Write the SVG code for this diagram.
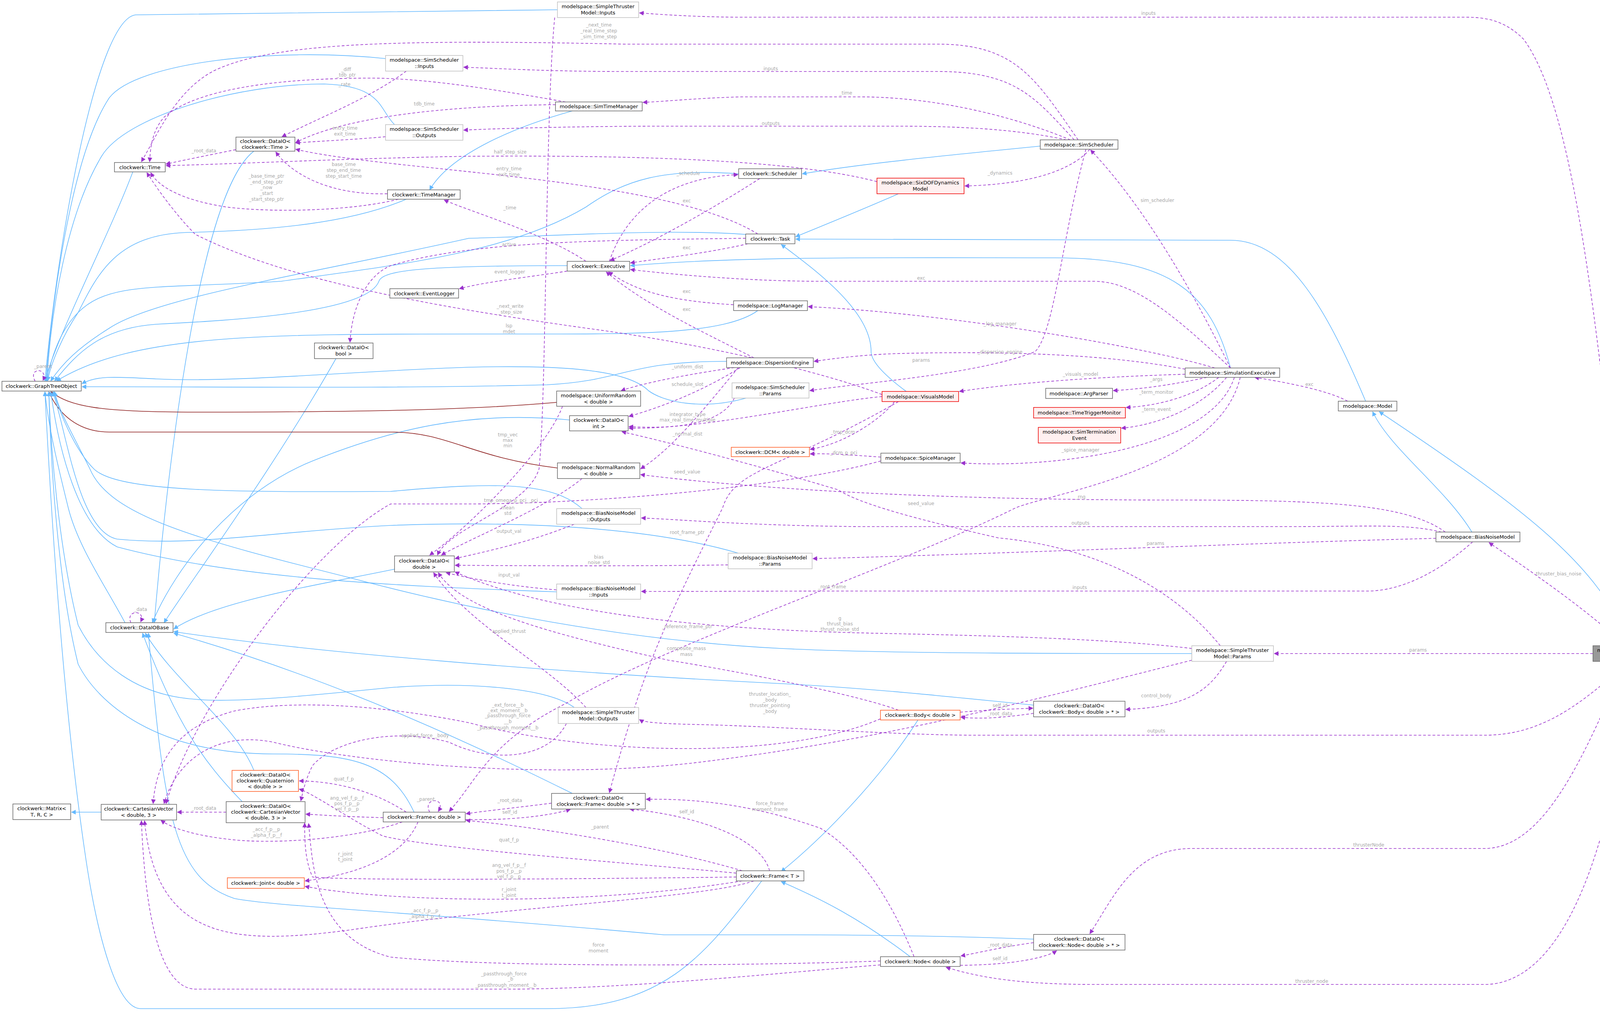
<svg xmlns="http://www.w3.org/2000/svg" width="4292" height="2588" viewBox="0 0 4292 2588">
<style>
.bg{fill:#fff}
.n rect{fill:#fff;stroke:#666;stroke-width:1.5}
.n.lt rect{stroke:#bfbfbf}
.n.rd rect{fill:#fff0f0;stroke:#e00}
.n.or rect{stroke:#ff5a1f}
.n.gy rect{fill:#999;stroke:#666}
.n text{font-family:"DejaVu Sans","Liberation Sans",sans-serif;font-size:13px;fill:#000;text-anchor:middle}
.e path{fill:none;stroke-width:1.6}
.b{stroke:#63b8ff}
.m{stroke:#8b1a1a}
.p{stroke:#9a32cd;stroke-dasharray:7,5}
.b{marker-end:url(#ab)}
.m{marker-end:url(#am)}
.p{marker-end:url(#ap)}
.l text{font-family:"DejaVu Sans","Liberation Sans",sans-serif;font-size:12px;fill:#a8a8a8;text-anchor:middle}
</style>
<defs>
<marker id="ab" viewBox="0 0 10 10" refX="9" refY="5" markerWidth="12" markerHeight="12" markerUnits="userSpaceOnUse" orient="auto"><path d="M0,0 L10,5 L0,10 z" fill="#63b8ff"/></marker>
<marker id="am" viewBox="0 0 10 10" refX="9" refY="5" markerWidth="12" markerHeight="12" markerUnits="userSpaceOnUse" orient="auto"><path d="M0,0 L10,5 L0,10 z" fill="#8b1a1a"/></marker>
<marker id="ap" viewBox="0 0 10 10" refX="9" refY="5" markerWidth="12" markerHeight="12" markerUnits="userSpaceOnUse" orient="auto"><path d="M0,0 L10,5 L0,10 z" fill="#9a32cd"/></marker>
</defs>
<rect class="bg" width="4292" height="2588"/>
<g id="connectors" class="e">
<path class="b" d="M1427,25 C900,30 420,38 350,38 C250,38 150,600 115,975"/>
<path class="b" d="M987,150 C700,120 350,160 280,250 C180,400 130,800 118,975"/>
<path class="b" d="M1010,319 C970,280 980,220 830,215 C600,215 320,300 260,400 C170,550 130,800 120,975"/>
<path class="b" d="M1465,284 C1300,330 1150,400 1100,486"/>
<path class="b" d="M650,387 C500,500 420,1300 395,1594"/>
<path class="b" d="M340,440 C280,600 150,850 115,975"/>
<path class="b" d="M1891,445 C1700,430 1600,460 1500,530 C1300,650 1000,680 720,720 C400,740 280,720 200,800 C150,850 130,920 120,975"/>
<path class="b" d="M1040,510 C900,570 700,590 480,595 C300,600 250,700 200,800 C160,860 130,930 122,975"/>
<path class="b" d="M1909,600 C1700,585 1400,605 1200,610 C800,700 400,760 280,840 C200,890 160,930 130,975"/>
<path class="b" d="M1452,680 C1100,680 980,690 970,720 C940,800 600,820 400,830 C260,840 200,900 140,975"/>
<path class="b" d="M1940,795 C1850,860 1600,855 1300,855 C700,855 350,850 145,975"/>
<path class="b" d="M860,918 C700,1200 480,1500 420,1594"/>
<path class="b" d="M1860,925 C1600,925 1600,975 1400,985 C1000,995 600,990 210,990"/>
<path class="b" d="M1910,1019 C1800,1050 1700,1030 1660,1000 C1600,940 1400,935 1200,940 C900,950 600,980 400,970 C300,965 250,960 210,982"/>
<path class="b" d="M1458,1075 C1200,1050 1000,1100 800,1180 C600,1260 450,1450 390,1594"/>
<path class="m" d="M1425,1030 C1200,1050 900,1055 500,1055 C250,1055 180,1040 130,1003"/>
<path class="m" d="M1427,1198 C1200,1170 1150,1106 1000,1106 C700,1106 350,1106 280,1106 C200,1106 150,1060 125,1003"/>
<path class="b" d="M1490,1302 C1420,1240 1300,1230 1000,1258 C600,1260 300,1260 240,1200 C190,1150 150,1050 138,1003"/>
<path class="b" d="M1890,1416 C1700,1360 1400,1330 1000,1345 C700,1360 500,1400 300,1380 C200,1360 170,1100 135,1003"/>
<path class="b" d="M1425,1515 C1000,1500 600,1480 300,1400 C200,1350 150,1150 130,1003"/>
<path class="b" d="M1010,1457 C800,1500 550,1540 445,1610"/>
<path class="b" d="M320,1594 C270,1500 200,1400 175,1301 C150,1200 125,1100 115,1003"/>
<path class="b" d="M1470,1811 C1400,1760 1200,1745 1000,1760 C800,1780 600,1800 500,1790 C350,1780 250,1700 200,1600 C150,1400 130,1150 125,1003"/>
<path class="b" d="M3051,1673 C2500,1673 2200,1670 2000,1660 C1600,1640 1200,1560 900,1480 C500,1380 280,1320 230,1200 C180,1100 150,1050 140,1003"/>
<path class="b" d="M2646,1805 C2400,1780 2200,1760 2000,1750 C1400,1720 800,1670 445,1617"/>
<path class="b" d="M650,1972 C600,1850 450,1750 372,1621"/>
<path class="b" d="M620,2052 C520,1950 450,1850 365,1621"/>
<path class="b" d="M259,2079 L183,2079"/>
<path class="b" d="M1060,2079 C1000,1950 900,1930 700,1930 C400,1930 250,1800 200,1700 C150,1500 130,1200 125,1003"/>
<path class="b" d="M1465,2031 C1300,1950 900,1750 445,1621"/>
<path class="b" d="M1950,2255 C1800,2450 1700,2582 1400,2582 L360,2582 C300,2582 250,2400 220,2200 C160,1800 130,1300 115,1003"/>
<path class="b" d="M2646,2404 C2400,2395 2200,2393 2000,2393 L1700,2393 C1000,2330 700,2320 600,2300 C450,2250 420,2100 380,1621"/>
<path class="b" d="M2330,2449 C2200,2350 2100,2300 2000,2257"/>
<path class="b" d="M2350,1843 C2250,2000 2100,2150 2000,2231"/>
<path class="b" d="M2663,374 C2400,400 2200,420 2054,445"/>
<path class="b" d="M2300,496 C2200,540 2100,580 2037,606"/>
<path class="b" d="M3150,942 C3100,750 3000,660 2700,660 C2300,660 1900,655 1614,680"/>
<path class="b" d="M3496,1027 C3400,800 3300,615 3150,615 L2037,612"/>
<path class="b" d="M2320,1002 C2250,950 2230,920 2230,900 C2230,800 2100,700 2000,626"/>
<path class="b" d="M3768,1362 C3700,1250 3560,1150 3514,1054"/>
<path class="b" d="M4171,1653 C4100,1450 3900,1300 3531,1054"/>

<path class="p" d="M4180,1652 C4100,1000 4050,300 3900,100 C3850,50 3800,44 3750,44 L1900,44 C1800,44 1700,38 1637,33"/>
<path class="p" d="M2760,358 C2650,200 2600,113 2400,113 L1600,113 C1000,100 700,110 550,180 C450,230 400,350 362,414"/>
<path class="p" d="M2750,358 C2650,250 2600,183 2400,183 L1600,183 C1400,183 1300,176 1187,172"/>
<path class="p" d="M2740,358 C2600,300 2400,248 2200,248 L1900,248 C1800,250 1700,260 1646,262"/>
<path class="p" d="M2730,358 C2600,330 2450,323 2300,323 L1700,323 C1500,323 1300,328 1187,333"/>
<path class="p" d="M2790,382 C2750,430 2650,472 2470,476"/>
<path class="p" d="M2780,382 C2720,600 2700,850 2650,900 C2500,960 2200,980 2073,1000"/>
<path class="p" d="M1448,261 C1300,235 1100,200 950,200 C700,200 500,230 420,300 C385,340 385,390 383,414"/>
<path class="p" d="M1422,268 C1200,270 900,290 757,365"/>
<path class="p" d="M1040,182 C950,250 820,300 722,350"/>
<path class="p" d="M987,350 C900,358 800,362 757,366"/>
<path class="p" d="M604,383 C520,400 470,410 425,420"/>
<path class="p" d="M2245,465 C2000,400 1500,398 1200,400 C900,405 600,420 425,424"/>
<path class="p" d="M1940,599 C1700,450 1000,440 757,382"/>
<path class="p" d="M992,496 C850,500 750,450 706,389"/>
<path class="p" d="M1020,510 C900,540 700,545 580,530 C450,510 400,470 386,442"/>
<path class="p" d="M1500,669 C1400,600 1200,540 1137,512"/>
<path class="p" d="M1560,669 C1600,550 1700,455 1889,447"/>
<path class="p" d="M1945,457 C1800,550 1650,630 1562,667"/>
<path class="p" d="M1915,624 C1800,650 1700,660 1614,673"/>
<path class="p" d="M1452,694 C1350,710 1250,720 1176,739"/>
<path class="p" d="M1909,610 C1500,615 1200,620 1000,680 C930,710 900,800 896,876"/>
<path class="p" d="M1878,780 C1700,770 1620,740 1558,696"/>
<path class="p" d="M1930,916 C1800,850 1650,780 1552,696"/>
<path class="p" d="M3150,942 C3000,800 2900,720 2800,720 L2100,720 C1900,720 1700,700 1614,690"/>
<path class="p" d="M2258,1010 C2100,950 1800,880 1500,840 C1000,770 700,700 500,600 C450,550 400,480 376,442"/>
<path class="p" d="M1880,941 C1750,960 1650,980 1590,1000"/>
<path class="p" d="M1890,941 C1800,1050 1720,1150 1640,1200"/>
<path class="p" d="M1895,941 C1800,1000 1700,1040 1610,1066"/>
<path class="p" d="M1880,1019 C1850,1080 1750,1100 1610,1092"/>
<path class="p" d="M3700,1362 C3600,1290 3400,1280 3000,1280 C2500,1280 2000,1260 1640,1215"/>
<path class="p" d="M2290,1028 C2250,1080 2150,1140 2074,1150"/>
<path class="p" d="M2255,1170 C2180,1165 2120,1160 2074,1162"/>
<path class="p" d="M2258,1015 C2100,1030 1800,1100 1610,1096"/>
<path class="p" d="M3150,942 C3080,800 2950,550 2792,384"/>
<path class="p" d="M3110,942 C2900,880 2400,800 2069,785"/>
<path class="p" d="M3034,945 C2800,900 2500,900 2300,905 C2200,908 2120,920 2084,925"/>
<path class="p" d="M3034,958 C2800,965 2600,980 2456,1002"/>
<path class="p" d="M3090,966 C3000,985 2930,995 2850,1000"/>
<path class="p" d="M3120,966 C3050,1020 2950,1040 2883,1043"/>
<path class="p" d="M3140,966 C3070,1050 2950,1090 2871,1096"/>
<path class="p" d="M3160,966 C3100,1150 2700,1200 2460,1185"/>
<path class="p" d="M3175,966 C3120,1200 2700,1260 2600,1300 C2300,1450 1700,1650 1450,1800 C1250,1900 1220,2000 1150,2077"/>
<path class="p" d="M3450,1027 C3400,1000 3300,980 3212,966"/>
<path class="p" d="M3690,1362 C3600,1340 3500,1348 3300,1348 L2200,1348 C1900,1345 1750,1330 1642,1326"/>
<path class="p" d="M3676,1378 C3200,1390 2500,1420 2081,1430"/>
<path class="p" d="M3770,1387 C3700,1450 3600,1513 3500,1513 L2200,1513 C2000,1513 1800,1514 1642,1514"/>
<path class="p" d="M4160,1652 C4050,1550 3900,1450 3812,1389"/>
<path class="p" d="M4078,1673 L3262,1673"/>
<path class="p" d="M4170,1693 C4050,1800 3950,1882 3800,1882 L2500,1882 C2300,1882 2000,1860 1800,1855 C1700,1853 1650,1850 1637,1842"/>
<path class="p" d="M4160,1693 C4050,1950 3950,2172 3800,2172 L3050,2172 C2900,2172 2850,2300 2790,2390"/>
<path class="p" d="M4180,1693 C4150,2000 4050,2520 3800,2520 L2800,2520 C2600,2520 2500,2500 2422,2476"/>
<path class="p" d="M3140,1693 C3100,1760 3050,1810 2882,1816"/>
<path class="p" d="M3051,1690 C2500,1830 2200,1900 1800,1950 C1400,2000 900,1950 700,1900 C550,1870 450,1950 420,2057"/>
<path class="p" d="M3051,1660 C2800,1630 2400,1625 2200,1620 C1800,1610 1400,1570 1165,1464"/>
<path class="p" d="M3124,1653 C3000,1500 2800,1400 2556,1377 C2350,1330 2200,1290 2146,1254 C1900,1180 1700,1130 1592,1105"/>
<path class="p" d="M2646,1826 C2550,1840 2500,1840 2460,1836"/>
<path class="p" d="M2458,1823 C2520,1818 2580,1815 2644,1813"/>
<path class="p" d="M2300,1818 C2200,1780 1900,1720 1711,1690 C1400,1620 1180,1560 1122,1466"/>
<path class="p" d="M2254,1840 C2000,1950 1500,1930 1200,1850 C900,1790 700,1800 600,1820 C450,1860 400,1950 392,2057"/>
<path class="p" d="M1450,1852 C1400,1950 1250,1950 1150,1900 C1000,1860 850,1900 800,1960 C780,2000 775,2030 770,2050"/>
<path class="p" d="M2300,1028 C2000,1200 1880,1200 1850,1300 C1700,1600 1650,1700 1560,2029"/>
<path class="p" d="M1100,2079 C1080,2040 1145,2040 1122,2077"/>
<path class="p" d="M1040,2079 C950,2020 850,2000 766,1999"/>
<path class="p" d="M981,2093 C900,2091 850,2088 783,2084"/>
<path class="p" d="M1030,2104 C900,2150 700,2160 600,2150 C500,2140 440,2120 412,2100"/>
<path class="p" d="M1070,2104 C1030,2200 900,2240 781,2255"/>
<path class="p" d="M1412,2056 C1300,2070 1250,2075 1193,2083"/>
<path class="p" d="M1191,2098 C1300,2100 1400,2090 1460,2072"/>
<path class="p" d="M579,2079 L454,2079"/>
<path class="p" d="M1900,2229 C1700,2170 1400,2120 1193,2100"/>
<path class="p" d="M1885,2235 C1500,2200 1100,2170 980,2140 C900,2100 800,2030 766,2020"/>
<path class="p" d="M1885,2245 C1500,2250 900,2255 800,2245 C780,2200 780,2150 780,2107"/>
<path class="p" d="M1900,2255 C1500,2320 1000,2310 781,2269"/>
<path class="p" d="M1930,2255 C1800,2300 1300,2320 900,2380 C600,2420 400,2410 370,2101"/>
<path class="p" d="M1970,2229 C1950,2150 1800,2090 1612,2071"/>
<path class="p" d="M2340,2449 C2280,2300 2200,2180 2100,2120 C1900,2050 1750,2045 1654,2046"/>
<path class="p" d="M2254,2460 C2000,2470 1300,2480 1000,2450 C800,2400 800,2200 790,2108"/>
<path class="p" d="M2254,2470 C2000,2490 1600,2532 1300,2532 L500,2532 C400,2530 370,2300 362,2101"/>
<path class="p" d="M2646,2413 C2560,2425 2500,2440 2460,2447"/>
<path class="p" d="M2458,2471 C2600,2470 2680,2450 2705,2434"/>
<path class="p" d="M90,976 C70,940 125,940 110,974"/>
<path class="p" d="M335,1594 C320,1560 375,1560 360,1592"/>
<path class="p" d="M1440,1040 C1400,1150 1200,1350 1100,1421"/>
<path class="p" d="M1490,1225 C1400,1300 1200,1380 1130,1421"/>
<path class="p" d="M1470,1342 C1350,1390 1250,1410 1165,1430"/>
<path class="p" d="M1864,1446 C1600,1450 1300,1448 1165,1447"/>
<path class="p" d="M1425,1510 C1300,1500 1200,1480 1142,1466"/>
<path class="p" d="M1500,1811 C1400,1700 1200,1600 1110,1466"/>
<path class="p" d="M1420,45 C1395,300 1400,1000 1380,1200 C1350,1300 1150,1350 1120,1421"/>
<path class="p" d="M2255,1180 C2000,1250 1500,1290 1200,1290 L1000,1290 C800,1400 500,1800 425,2057"/>
</g>
<g id="labels" class="l">
<text x="2940" y="38">inputs</text>
<text x="1533" y="68">_next_time</text><text x="1533" y="83">_real_time_step</text><text x="1533" y="98">_sim_time_step</text>
<text x="1973" y="180">inputs</text>
<text x="2165" y="242">_time</text>
<text x="1973" y="320">outputs</text>
<text x="2560" y="447">_dynamics</text>
<text x="2358" y="926">params</text>
<text x="886" y="182">_diff</text><text x="886" y="196">_tdb_ptr</text><text x="882" y="220">_rate</text>
<text x="1086" y="270">tdb_time</text>
<text x="883" y="332">entry_time</text><text x="883" y="347">exit_time</text>
<text x="522" y="390">_root_data</text>
<text x="1306" y="393">half_step_size</text>
<text x="1303" y="436">entry_time</text><text x="1303" y="451">exit_time</text>
<text x="880" y="425">base_time</text><text x="880" y="440">step_end_time</text><text x="880" y="455">step_start_time</text>
<text x="682" y="455">_base_time_ptr</text><text x="682" y="470">_end_step_ptr</text><text x="682" y="484">_now</text><text x="682" y="499">_start</text><text x="682" y="514">_start_step_ptr</text>
<text x="1305" y="536">_time</text>
<text x="1762" y="448">_schedule</text>
<text x="1758" y="518">exc</text>
<text x="1758" y="638">exc</text>
<text x="1305" y="700">event_logger</text>
<text x="1303" y="630">active</text>
<text x="1758" y="750">exc</text>
<text x="1758" y="796">exc</text>
<text x="2358" y="716">exc</text>
<text x="1306" y="788">_next_write</text><text x="1306" y="803">_step_size</text>
<text x="1303" y="838">lsp</text><text x="1303" y="853">mdet</text>
<text x="1760" y="943">_uniform_dist</text>
<text x="1760" y="1115">_normal_dist</text>
<text x="1760" y="988">schedule_slot</text>
<text x="1760" y="1065">integrator_type</text><text x="1760" y="1079">max_real_time_multiple</text>
<text x="1759" y="1212">seed_value</text>
<text x="2766" y="1276">_rng</text>
<text x="2358" y="1293">seed_value</text>
<text x="2158" y="1110">_tmp_dcm</text>
<text x="2160" y="1163">_dcm_p_pci</text>
<text x="2963" y="517">sim_scheduler</text>
<text x="2560" y="833">_log_manager</text>
<text x="2560" y="905">_dispersion_engine</text>
<text x="2766" y="962">_visuals_model</text>
<text x="2960" y="975">_args</text>
<text x="2960" y="1008">_term_monitor</text>
<text x="2960" y="1052">_term_event</text>
<text x="2766" y="1156">_spice_manager</text>
<text x="2130" y="1506">_root_frame</text>
<text x="3352" y="988">exc</text>
<text x="2766" y="1343">outputs</text>
<text x="2958" y="1395">params</text>
<text x="2764" y="1508">inputs</text>
<text x="3990" y="1473">thruster_bias_noise</text>
<text x="3630" y="1668">params</text>
<text x="2960" y="1875">outputs</text>
<text x="3504" y="2167">thrusterNode</text>
<text x="3358" y="2516">thruster_node</text>
<text x="2960" y="1785">control_body</text>
<text x="1971" y="1781">thruster_location_</text><text x="1971" y="1796">_body</text><text x="1971" y="1810">thruster_pointing</text><text x="1971" y="1825">_body</text>
<text x="2150" y="1587">g</text><text x="2150" y="1601">thrust_bias</text><text x="2150" y="1615">thrust_noise_std</text>
<text x="2560" y="1831">_root_data</text>
<text x="2560" y="1810">self_id</text>
<text x="1757" y="1664">composite_mass</text><text x="1757" y="1679">mass</text>
<text x="1300" y="1809">_ext_force__b</text><text x="1300" y="1823">_ext_moment__b</text><text x="1300" y="1836">_passthrough_force</text><text x="1300" y="1851">__b</text><text x="1300" y="1867">_passthrough_moment__b</text>
<text x="1088" y="1887">applied_force__body</text>
<text x="1759" y="1367">root_frame_ptr</text>
<text x="1759" y="1608">_reference_frame_ptr</text>
<text x="1090" y="2050">_parent</text>
<text x="880" y="1998">quat_f_p</text>
<text x="888" y="2047">ang_vel_f_p__f</text><text x="888" y="2061">pos_f_p__p</text><text x="888" y="2075">vel_f_p__p</text>
<text x="682" y="2127">_acc_f_p__p</text><text x="682" y="2142">_alpha_f_p__f</text>
<text x="884" y="2190">r_joint</text><text x="884" y="2204">t_joint</text>
<text x="1305" y="2053">_root_data</text>
<text x="1305" y="2083">self_id</text>
<text x="522" y="2073">_root_data</text>
<text x="1536" y="2121">_parent</text>
<text x="1303" y="2154">quat_f_p</text>
<text x="1303" y="2219">ang_vel_f_p__f</text><text x="1303" y="2234">pos_f_p__p</text><text x="1303" y="2248">vel_f_p__p</text>
<text x="1303" y="2281">r_joint</text><text x="1303" y="2296">t_joint</text>
<text x="1087" y="2335">_acc_f_p__p</text><text x="1087" y="2350">_alpha_f_p__f</text>
<text x="1758" y="2082">self_id</text>
<text x="1971" y="2061">force_frame</text><text x="1971" y="2076">moment_frame</text>
<text x="1532" y="2423">force</text><text x="1532" y="2438">moment</text>
<text x="1290" y="2497">_passthrough_force</text><text x="1307" y="2510">_b</text><text x="1295" y="2526">_passthrough_moment__b</text>
<text x="2560" y="2423">_root_data</text>
<text x="2560" y="2458">self_id</text>
<text x="110" y="942">_parent</text>
<text x="360" y="1564">_data</text>
<text x="1300" y="1117">tmp_vec</text><text x="1300" y="1131">max</text><text x="1300" y="1145">min</text>
<text x="1300" y="1304">mean</text><text x="1300" y="1318">std</text>
<text x="1303" y="1364">output_val</text>
<text x="1533" y="1430">bias</text><text x="1533" y="1444">noise_std</text>
<text x="1303" y="1476">input_val</text>
<text x="1303" y="1620">applied_thrust</text>
<text x="1308" y="1285">tmp_omega_p_pci__pci</text>
</g>
<g id="n_sti" class="n lt"><rect x="1427" y="5" width="208" height="40"/><text x="1531" y="21">modelspace::SimpleThruster</text><text x="1531" y="37">Model::Inputs</text></g>
<g id="n_ssi" class="n lt"><rect x="987" y="142" width="198" height="40"/><text x="1086" y="158">modelspace::SimScheduler</text><text x="1086" y="174">::Inputs</text></g>
<g id="n_stm" class="n"><rect x="1422" y="261" width="222" height="23"/><text x="1533" y="277">modelspace::SimTimeManager</text></g>
<g id="n_sso" class="n lt"><rect x="987" y="319" width="198" height="40"/><text x="1086" y="335">modelspace::SimScheduler</text><text x="1086" y="351">::Outputs</text></g>
<g id="n_dtime" class="n"><rect x="604" y="351" width="151" height="36"/><text x="679" y="366">clockwerk::DataIO&lt;</text><text x="679" y="381">clockwerk::Time &gt;</text></g>
<g id="n_time" class="n"><rect x="293" y="416" width="130" height="24"/><text x="358" y="433">clockwerk::Time</text></g>
<g id="n_sched" class="n"><rect x="1891" y="432" width="161" height="25"/><text x="1971" y="449">clockwerk::Scheduler</text></g>
<g id="n_tm" class="n"><rect x="992" y="486" width="186" height="24"/><text x="1085" y="503">clockwerk::TimeManager</text></g>
<g id="n_task" class="n"><rect x="1909" y="599" width="126" height="25"/><text x="1972" y="616">clockwerk::Task</text></g>
<g id="n_exec" class="n"><rect x="1452" y="669" width="160" height="25"/><text x="1532" y="686">clockwerk::Executive</text></g>
<g id="n_evl" class="n"><rect x="998" y="739" width="176" height="24"/><text x="1086" y="756">clockwerk::EventLogger</text></g>
<g id="n_logm" class="n"><rect x="1878" y="770" width="189" height="25"/><text x="1972" y="787">modelspace::LogManager</text></g>
<g id="n_dbool" class="n"><rect x="805" y="878" width="150" height="40"/><text x="880" y="894">clockwerk::DataIO&lt;</text><text x="880" y="910">bool &gt;</text></g>
<g id="n_gto" class="n"><rect x="5" y="976" width="203" height="25"/><text x="106" y="993">clockwerk::GraphTreeObject</text></g>
<g id="n_disp" class="n"><rect x="1860" y="916" width="222" height="25"/><text x="1971" y="933">modelspace::DispersionEngine</text></g>
<g id="n_ssp" class="n lt"><rect x="1874" y="980" width="197" height="39"/><text x="1972" y="996">modelspace::SimScheduler</text><text x="1972" y="1012">::Params</text></g>
<g id="n_ur" class="n"><rect x="1425" y="1001" width="215" height="39"/><text x="1532" y="1017">modelspace::UniformRandom</text><text x="1532" y="1033">&lt; double &gt;</text></g>
<g id="n_dint" class="n"><rect x="1458" y="1064" width="150" height="39"/><text x="1533" y="1080">clockwerk::DataIO&lt;</text><text x="1533" y="1096">int &gt;</text></g>
<g id="n_dcm" class="n or"><rect x="1872" y="1145" width="200" height="24"/><text x="1972" y="1162">clockwerk::DCM&lt; double &gt;</text></g>
<g id="n_nr" class="n"><rect x="1427" y="1185" width="211" height="40"/><text x="1532" y="1201">modelspace::NormalRandom</text><text x="1532" y="1217">&lt; double &gt;</text></g>
<g id="n_ss" class="n"><rect x="2663" y="358" width="199" height="24"/><text x="2762" y="375">modelspace::SimScheduler</text></g>
<g id="n_six" class="n rd"><rect x="2245" y="456" width="223" height="40"/><text x="2356" y="472">modelspace::SixDOFDynamics</text><text x="2356" y="488">Model</text></g>
<g id="n_simexec" class="n"><rect x="3034" y="942" width="242" height="24"/><text x="3155" y="959">modelspace::SimulationExecutive</text></g>
<g id="n_vis" class="n rd"><rect x="2258" y="1002" width="196" height="26"/><text x="2356" y="1020">modelspace::VisualsModel</text></g>
<g id="n_arg" class="n"><rect x="2677" y="994" width="171" height="26"/><text x="2762" y="1012">modelspace::ArgParser</text></g>
<g id="n_ttm" class="n rd"><rect x="2646" y="1043" width="235" height="27"/><text x="2763" y="1061">modelspace::TimeTriggerMonitor</text></g>
<g id="n_ste" class="n rd"><rect x="2658" y="1094" width="211" height="40"/><text x="2763" y="1110">modelspace::SimTermination</text><text x="2763" y="1126">Event</text></g>
<g id="n_spice" class="n"><rect x="2255" y="1160" width="203" height="25"/><text x="2356" y="1177">modelspace::SpiceManager</text></g>
<g id="n_model" class="n"><rect x="3426" y="1027" width="150" height="25"/><text x="3501" y="1044">modelspace::Model</text></g>
<g id="n_bno" class="n lt"><rect x="1425" y="1302" width="215" height="40"/><text x="1532" y="1318">modelspace::BiasNoiseModel</text><text x="1532" y="1334">::Outputs</text></g>
<g id="n_ddbl" class="n"><rect x="1010" y="1423" width="153" height="41"/><text x="1086" y="1440">clockwerk::DataIO&lt;</text><text x="1086" y="1456">double &gt;</text></g>
<g id="n_bnp" class="n lt"><rect x="1864" y="1416" width="215" height="40"/><text x="1971" y="1432">modelspace::BiasNoiseModel</text><text x="1971" y="1448">::Params</text></g>
<g id="n_bni" class="n lt"><rect x="1425" y="1495" width="215" height="39"/><text x="1532" y="1511">modelspace::BiasNoiseModel</text><text x="1532" y="1527">::Inputs</text></g>
<g id="n_dbase" class="n"><rect x="271" y="1594" width="172" height="25"/><text x="357" y="1611">clockwerk::DataIOBase</text></g>
<g id="n_sto" class="n lt"><rect x="1429" y="1811" width="206" height="41"/><text x="1532" y="1828">modelspace::SimpleThruster</text><text x="1532" y="1844">Model::Outputs</text></g>
<g id="n_dq" class="n or"><rect x="594" y="1972" width="170" height="54"/><text x="679" y="1988">clockwerk::DataIO&lt;</text><text x="679" y="2003">clockwerk::Quaternion</text><text x="679" y="2018">&lt; double &gt; &gt;</text></g>
<g id="n_matrix" class="n"><rect x="33" y="2058" width="148" height="40"/><text x="107" y="2074">clockwerk::Matrix&lt;</text><text x="107" y="2090">T, R, C &gt;</text></g>
<g id="n_cv" class="n"><rect x="259" y="2059" width="193" height="40"/><text x="355" y="2075">clockwerk::CartesianVector</text><text x="355" y="2091">&lt; double, 3 &gt;</text></g>
<g id="n_dcv" class="n"><rect x="579" y="2052" width="202" height="54"/><text x="680" y="2068">clockwerk::DataIO&lt;</text><text x="680" y="2083">clockwerk::CartesianVector</text><text x="680" y="2098">&lt; double, 3 &gt; &gt;</text></g>
<g id="n_frd" class="n"><rect x="981" y="2079" width="210" height="25"/><text x="1086" y="2096">clockwerk::Frame&lt; double &gt;</text></g>
<g id="n_dfr" class="n"><rect x="1412" y="2031" width="240" height="40"/><text x="1532" y="2047">clockwerk::DataIO&lt;</text><text x="1532" y="2063">clockwerk::Frame&lt; double &gt; * &gt;</text></g>
<g id="n_joint" class="n or"><rect x="582" y="2247" width="197" height="27"/><text x="680" y="2265">clockwerk::Joint&lt; double &gt;</text></g>
<g id="n_frt" class="n"><rect x="1885" y="2229" width="173" height="26"/><text x="1971" y="2247">clockwerk::Frame&lt; T &gt;</text></g>
<g id="n_bnm" class="n"><rect x="3676" y="1362" width="215" height="25"/><text x="3783" y="1379">modelspace::BiasNoiseModel</text></g>
<g id="n_stp" class="n lt"><rect x="3051" y="1653" width="209" height="40"/><text x="3155" y="1669">modelspace::SimpleThruster</text><text x="3155" y="1685">Model::Params</text></g>
<g id="n_stmodel" class="n gy"><rect x="4078" y="1653" width="208" height="40"/><text x="4182" y="1669">modelspace::SimpleThruster</text><text x="4182" y="1685">Model</text></g>
<g id="n_dbody" class="n"><rect x="2646" y="1795" width="234" height="40"/><text x="2763" y="1811">clockwerk::DataIO&lt;</text><text x="2763" y="1827">clockwerk::Body&lt; double &gt; * &gt;</text></g>
<g id="n_body" class="n or"><rect x="2254" y="1818" width="204" height="25"/><text x="2356" y="1835">clockwerk::Body&lt; double &gt;</text></g>
<g id="n_dnode" class="n"><rect x="2646" y="2392" width="234" height="40"/><text x="2763" y="2408">clockwerk::DataIO&lt;</text><text x="2763" y="2424">clockwerk::Node&lt; double &gt; * &gt;</text></g>
<g id="n_node" class="n"><rect x="2254" y="2449" width="204" height="25"/><text x="2356" y="2466">clockwerk::Node&lt; double &gt;</text></g>
</svg>
